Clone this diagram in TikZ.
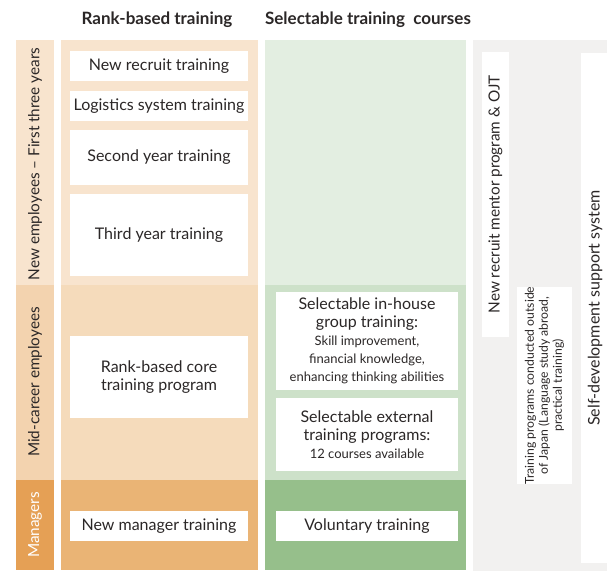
\documentclass[tikz,border=0pt]{standalone}
\usepackage{fontspec}
\setmainfont{Lato}
\usepackage{tikz}
\usetikzlibrary{positioning}
\definecolor{txGray}{HTML}{2B2727}
\definecolor{peachA}{HTML}{F8E4CE}
\definecolor{peachB}{HTML}{F5DBBB}
\definecolor{peachC}{HTML}{EAB475}
\definecolor{labelB}{HTML}{F3D3AF}
\definecolor{labelC}{HTML}{E5A055}
\definecolor{greenA}{HTML}{E3EEE1}
\definecolor{greenB}{HTML}{CDE1C9}
\definecolor{greenC}{HTML}{96BF8B}
\definecolor{paleGray}{HTML}{F2F1F0}
\newcommand{\subtxt}{\fontsize{13}{14.5}\selectfont}

\begin{document}
\begin{tikzpicture}[x=1pt,y=-1pt,
    every node/.style={text=txGray,font=\fontsize{16}{18}\selectfont},
    whitebox/.style={fill=white,inner sep=0pt,align=center},
    head/.style={font=\fontsize{17}{19}\selectfont\bfseries},
    sidelabel/.style={rotate=90,font=\fontsize{15.3}{17}\selectfont},
    small/.style={font=\fontsize{12.2}{14}\selectfont}]
    \useasboundingbox (0,0) rectangle (607,571);
    % column bands
    \fill[peachA] (16,40) rectangle (54,285);
    \fill[labelB] (16,285) rectangle (54,480);
    \fill[labelC] (16,480) rectangle (54,570);
    \fill[peachA] (61,40) rectangle (258,285);
    \fill[peachB] (61,285) rectangle (258,480);
    \fill[peachC] (61,480) rectangle (258,570);
    \fill[greenA] (265,40) rectangle (466,285);
    \fill[greenB] (265,285) rectangle (466,480);
    \fill[greenC] (265,480) rectangle (466,570);
    \fill[paleGray] (473,40) rectangle (607,571);
    % headers
    \node[head] (rankhead) at (157,20) {Rank-based training};
    \node[head] (selhead) at (368,20) {Selectable training\ \ courses};
    % rank labels
    \node[sidelabel] (newemp) at (35,164) {New employees -- First three years};
    \node[sidelabel] (midcar) at (35,382) {Mid-career employees};
    \node[sidelabel,text=white] (mgrs) at (35,525) {Managers};
    % rank-based boxes
    \node[whitebox,minimum width=178,minimum height=30] (newrec) at (159,66) {New recruit training};
    \node[whitebox,minimum width=178,minimum height=30] (logist) at (159,106) {Logistics system training};
    \node[whitebox,minimum width=178,minimum height=55] (second) at (159,157.5) {Second year training};
    \node[whitebox,minimum width=178,minimum height=82] (third) at (159,235) {Third year training};
    \node[whitebox,minimum width=178,minimum height=82] (core) at (159,377) {Rank-based core\\training program};
    \node[whitebox,minimum width=178,minimum height=30] (newmgr) at (159,526) {New manager training};
    % selectable boxes
    \node[whitebox,minimum width=182,minimum height=98] (inhouse) at (367,341)
      {Selectable in-house\\group training:\\{\subtxt Skill improvement,}\\{\subtxt financial knowledge,}\\{\subtxt enhancing thinking abilities}};
    \node[whitebox,minimum width=182,minimum height=73] (extern) at (367,434.5)
      {Selectable external\\training programs:\\{\subtxt 12 courses available}};
    \node[whitebox,minimum width=182,minimum height=30] (volunt) at (367,526) {Voluntary training};
    % side strips
    \node[whitebox,sidelabel,minimum width=285,minimum height=27] (mentor) at (495.5,194.5) {New recruit mentor program \& OJT};
    \node[whitebox,rotate=90,minimum width=197,minimum height=55,small] (abroad) at (544.5,385.5)
      {Training programs conducted outside\\of Japan (Language study abroad,\\practical training)};
    \fill[white] (581,53) rectangle (607,563);
    \node[rotate=90] (selfdev) at (595,308) {Self-development support system};
\end{tikzpicture}
\end{document}
